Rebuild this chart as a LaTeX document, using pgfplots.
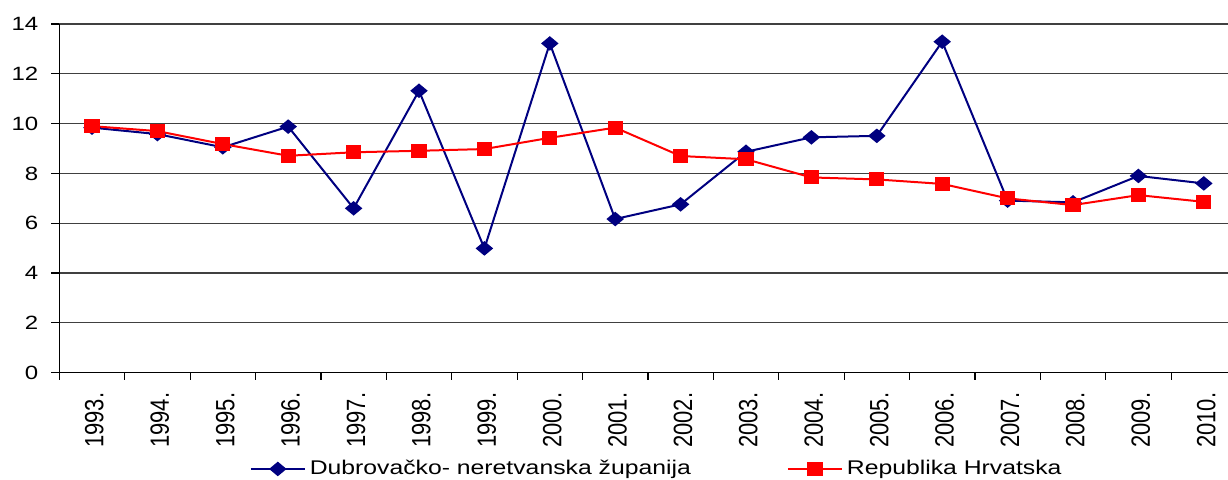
\documentclass[border=0pt]{standalone}
\usepackage{pgfplots}
\pgfplotsset{compat=1.18}
\usepackage{fontspec}
\setmainfont{Liberation Sans}[FakeStretch=1.25]
\newfontfamily\plainsans{Liberation Sans}
\definecolor{navy}{RGB}{0,0,128}
\definecolor{myred}{RGB}{255,0,0}
\begin{document}
\begin{tikzpicture}[x=1pt,y=1pt]
\begin{axis}[
  at={(0,0)}, anchor=south west,
  scale only axis, width=584.35pt, height=174.35pt,
  xmin=-0.5, xmax=17.37, ymin=0, ymax=14,
  axis x line=bottom, axis y line=left,
  axis line style={-, black, line width=0.6pt},
  ytick={0,2,...,14},
  ymajorgrids, grid style={black!75, line width=0.6pt},
  xtick={0,...,17},
  xticklabels={1993.,1994.,1995.,1996.,1997.,1998.,1999.,2000.,2001.,2002.,2003.,2004.,2005.,2006.,2007.,2008.,2009.,2010.},
  minor xtick={-0.5,0.5,...,16.5},
  tick align=outside,
  major tick length=4pt, minor tick length=3.5pt,
  x tick style={draw=none},
  minor x tick style={draw=black, line width=0.6pt},
  y tick style={black, line width=0.6pt},
  xticklabel style={rotate=90, yscale=1.2, anchor=east, font=\plainsans\fontsize{11}{13}\selectfont, xshift=-2.5pt, yshift=-1pt},
  yticklabel style={font=\fontsize{9.6}{11}\selectfont, xshift=-3pt},
  /pgf/number format/assume math mode=true,
  legend columns=2,
  legend style={draw=none, fill=none, at={(0.512,-0.276)}, anchor=center,
    font=\fontsize{9.9}{11}\selectfont,
    /tikz/every even column/.append style={column sep=46pt}},
  legend cell align=left,
  legend image code/.code={%
    \draw[mark repeat=2,mark phase=2] plot coordinates {(0pt,0pt) (13.5pt,0pt) (27pt,0pt)};},
]
\addplot[navy, line width=1pt, mark=diamond*, mark size=3pt, mark options={xscale=1.6, solid, fill=navy}]
coordinates {
(0,9.84) (1,9.58) (2,9.05) (3,9.88) (4,6.60) (5,11.32) (6,4.99) (7,13.22) (8,6.17)
(9,6.76) (10,8.87) (11,9.45) (12,9.51) (13,13.29) (14,6.91) (15,6.84) (16,7.90) (17,7.60)
};
\addlegendentry{Dubrovačko- neretvanska županija}
\addplot[myred, line width=1pt, mark=square*, mark size=3pt, mark options={xscale=1.1, solid, fill=myred}]
coordinates {
(0,9.90) (1,9.70) (2,9.18) (3,8.71) (4,8.85) (5,8.91) (6,8.98) (7,9.43) (8,9.84)
(9,8.70) (10,8.57) (11,7.84) (12,7.76) (13,7.58) (14,7.00) (15,6.73) (16,7.13) (17,6.86)
};
\addlegendentry{Republika Hrvatska}
\end{axis}
\pgfresetboundingbox
\path[use as bounding box] (-29.65,-53.15) rectangle (584.35,186.35);
\end{tikzpicture}
\end{document}
